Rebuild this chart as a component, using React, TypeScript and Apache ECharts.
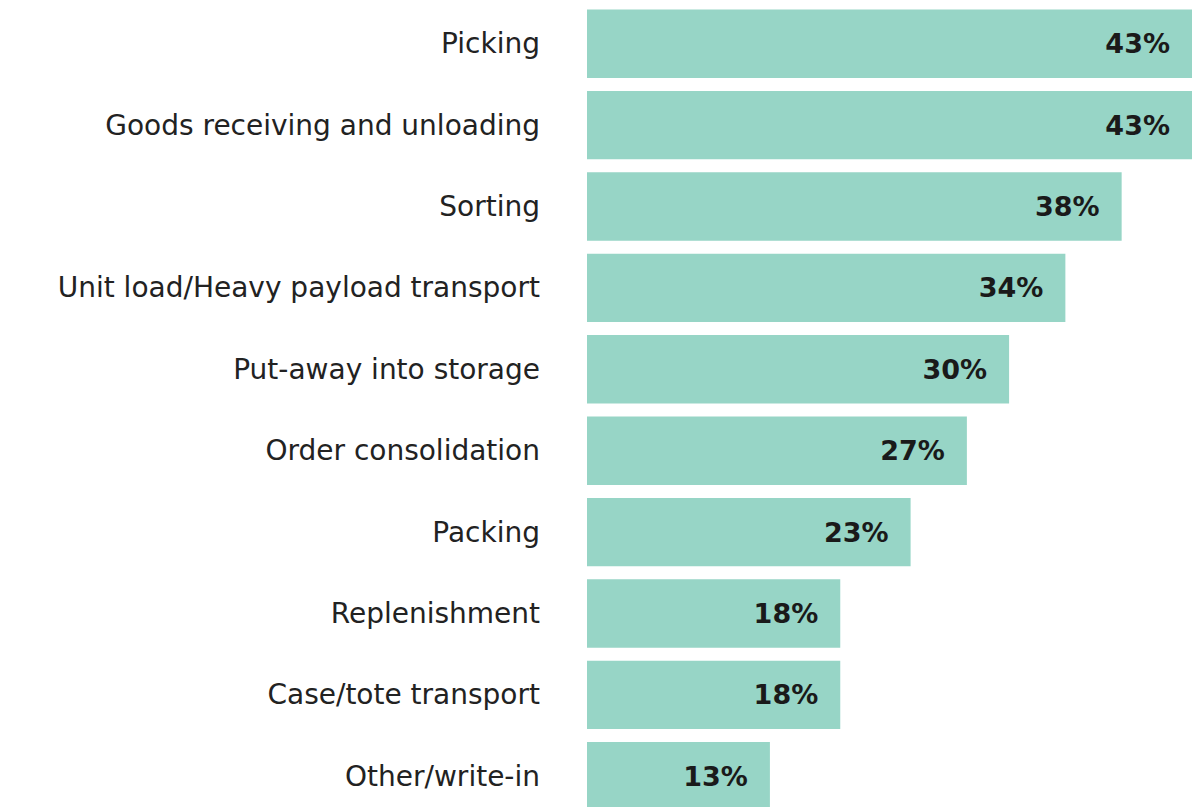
import React, { useEffect, useRef } from "react";
import * as echarts from "echarts";

const categories = [
  "Picking",
  "Goods receiving and unloading",
  "Sorting",
  "Unit load/Heavy payload transport",
  "Put-away into storage",
  "Order consolidation",
  "Packing",
  "Replenishment",
  "Case/tote transport",
  "Other/write-in",
];
const values = [43, 43, 38, 34, 30, 27, 23, 18, 18, 13];

export default function App() {
  const ref = useRef<HTMLDivElement>(null);
  useEffect(() => {
    document.body.style.margin = "0";
    document.body.style.overflow = "hidden";
    const chart = echarts.init(ref.current!, null, { renderer: "svg" });
    chart.setOption({
      animation: false,
      backgroundColor: "#ffffff",
      grid: { left: 587, right: 3, top: 3, bottom: 0, containLabel: false },
      xAxis: {
        type: "value",
        min: 0,
        max: 43,
        show: false,
      },
      yAxis: {
        type: "category",
        data: categories,
        inverse: true,
        axisLine: { show: false },
        axisTick: { show: false },
        axisLabel: {
          margin: 47,
          fontSize: 28,
          color: "#222222",
          fontFamily: "DejaVu Sans",
        },
      },
      series: [
        {
          type: "bar",
          data: values,
          barCategoryGap: "16%",
          itemStyle: { color: "#97d5c6" },
          label: {
            show: true,
            position: "insideRight",
            distance: 22,
            formatter: "{c}%",
            fontSize: 27,
            fontWeight: "bold",
            color: "#1a1a1a",
            fontFamily: "DejaVu Sans",
          },
        },
      ],
    });
    return () => chart.dispose();
  }, []);
  return (
    <div
      ref={ref}
      style={{ position: "fixed", left: 0, top: 0, width: 1195, height: 817 }}
    />
  );
}
